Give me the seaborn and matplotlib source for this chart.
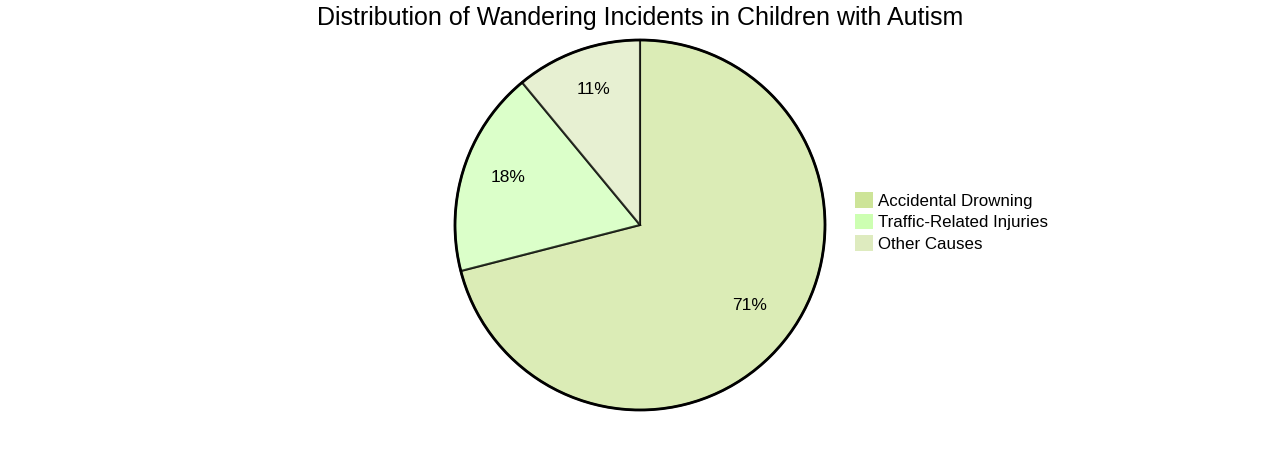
import matplotlib
matplotlib.use("Agg")
import matplotlib.pyplot as plt
from matplotlib.patches import Patch
import seaborn as sns

# Data
causes = ["Accidental Drowning", "Traffic-Related Injuries", "Other Causes"]
shares = [71, 18, 11]
slice_colors = ["#cde498", "#cdffb2", "#deebbf"]
title = "Distribution of Wandering Incidents in Children with Autism"

sns.set_theme(style="white")
plt.rcParams["font.family"] = ["Liberation Sans", "DejaVu Sans"]
plt.rcParams["text.color"] = "black"

palette = sns.color_palette(slice_colors)

fig = plt.figure(figsize=(12.8, 4.5), dpi=100)
ax = fig.add_axes([(640 - 185) / 1280, 40 / 450, 370 / 1280, 370 / 450])

wedges, texts, autotexts = ax.pie(
    shares,
    colors=palette,
    startangle=90,
    counterclock=False,
    autopct="%1.0f%%",
    pctdistance=0.75,
    radius=1,
    wedgeprops=dict(edgecolor="black", linewidth=1.5, alpha=0.7),
    textprops=dict(fontsize=12.5, color="black"),
)
for w in wedges:
    w.set_edgecolor((0, 0, 0, 1))
    w.set_clip_on(False)

# percent labels sit a touch higher in the original
for t in autotexts:
    x, y = t.get_position()
    t.set_position((x, y + 0.027))

outline = plt.Circle((0, 0), 1, fill=False, edgecolor="black", linewidth=2, clip_on=False)
ax.add_patch(outline)
ax.set_xlim(-1, 1)
ax.set_ylim(-1, 1)
ax.set_aspect("equal")
ax.axis("off")

fig.text(0.5, 1 - 18 / 450, title, ha="center", va="center", fontsize=18, color="black")

handles = [Patch(facecolor=c, edgecolor="none") for c in palette]
fig.legend(
    handles,
    causes,
    loc="center left",
    bbox_to_anchor=(855 / 1280, 1 - 222 / 450),
    frameon=False,
    fontsize=12.2,
    handlelength=1.05,
    handleheight=1.05,
    handletextpad=0.3,
    labelspacing=0.3,
    borderaxespad=0,
    borderpad=0,
)

fig.savefig("out.png", dpi=100)
